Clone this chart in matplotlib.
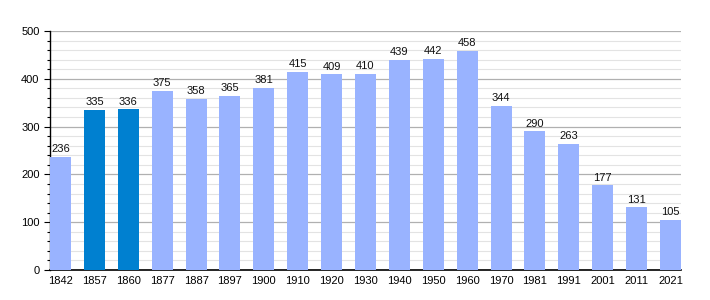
import matplotlib.pyplot as plt
from matplotlib.ticker import MultipleLocator

annees = ['1842', '1857', '1860', '1877', '1887', '1897', '1900', '1910', '1920', '1930',
          '1940', '1950', '1960', '1970', '1981', '1991', '2001', '2011', '2021']
population = [236, 335, 336, 375, 358, 365, 381, 415, 409, 410,
              439, 442, 458, 344, 290, 263, 177, 131, 105]
fonces = ['1857', '1860']

plt.rcParams['font.family'] = ['Liberation Sans', 'DejaVu Sans']

fig = plt.figure(figsize=(7.1, 3.0), dpi=100)
ax = fig.add_axes([50/710, 30/300, 631/710, 239/300])

couleurs = ['#0080D0' if a in fonces else '#99B3FF' for a in annees]
x = range(len(annees))
ax.bar(x, population, width=0.62, color=couleurs, zorder=3)

for i, v in enumerate(population):
    ax.text(i, v + 6, str(v), ha='center', va='bottom', fontsize=8, color='#111111', zorder=4)

ax.set_xlim(-0.31, len(annees) - 1 + 0.31)
ax.set_ylim(0, 500)
ax.set_xticks(list(x))
ax.set_xticklabels(annees, fontsize=8)
ax.yaxis.set_major_locator(MultipleLocator(100))
ax.yaxis.set_minor_locator(MultipleLocator(20))
ax.tick_params(axis='y', labelsize=8, length=4, width=0.8, which='major')
ax.tick_params(axis='y', length=2.5, width=0.8, which='minor')
ax.tick_params(axis='x', length=0, pad=4)

ax.grid(True, axis='y', which='major', color='#b0b0b0', linewidth=0.9, zorder=0)
ax.grid(True, axis='y', which='minor', color='#e3e3e3', linewidth=0.8, zorder=0)

ax.spines['top'].set_visible(False)
ax.spines['right'].set_visible(False)
ax.spines['left'].set_linewidth(1.0)
ax.spines['bottom'].set_linewidth(1.2)

fig.savefig('out.png', dpi=100)
